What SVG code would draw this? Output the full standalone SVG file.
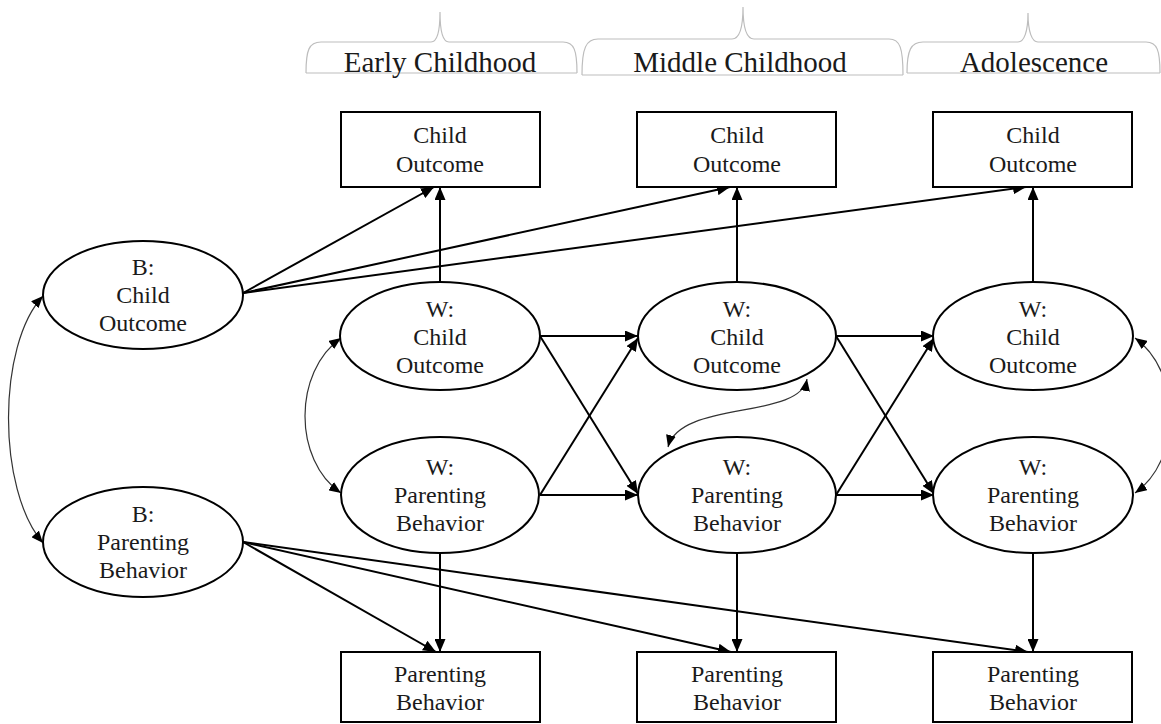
<svg xmlns="http://www.w3.org/2000/svg" width="1161" height="724" viewBox="0 0 1161 724">
  <defs>
    <style>
      .node { fill: #fff; stroke: #000; stroke-width: 2; }
      .lbl { font-family: "Liberation Serif", "Times New Roman", serif; font-size: 24px; fill: #1a1a1a; text-anchor: middle; }
      .hdr { font-family: "Liberation Serif", "Times New Roman", serif; font-size: 29px; fill: #1a1a1a; text-anchor: middle; }
      .brace { fill: none; stroke: #bdbdbd; stroke-width: 1.2; }
      .path { fill: none; stroke: #000; stroke-width: 2; marker-end: url(#head); }
      .cov { fill: none; stroke: #333; stroke-width: 1.2; marker-start: url(#headS); marker-end: url(#headS); }
    </style>
    <marker id="head" markerUnits="userSpaceOnUse" markerWidth="13" markerHeight="11" refX="13" refY="5.5" orient="auto">
      <path d="M0,0 L13,5.5 L0,11 z" fill="#000"/>
    </marker>
    <marker id="headS" markerUnits="userSpaceOnUse" markerWidth="12" markerHeight="10" refX="12" refY="5" orient="auto-start-reverse">
      <path d="M0,0 L12,5 L0,10 z" fill="#000"/>
    </marker>
  </defs>

  <!-- period headers -->
  <g id="header-early">
    <path class="brace" d="M306,73 C306,50 309,42 321,42 L431,42 C437,42 440,32 440,12 C440,32 443,42 449,42 L563,42 C574,42 577,50 577,73"/>
    <line class="brace" x1="306" y1="73" x2="577" y2="73"/>
    <text class="hdr" x="440" y="72">Early Childhood</text>
  </g>
  <g id="header-middle">
    <path class="brace" d="M582,75 C582,48 586,39 598,39 L732,39 C739,39 743,28 743,7 C743,28 747,39 754,39 L889,39 C900,39 903,48 903,75"/>
    <line class="brace" x1="582" y1="75" x2="903" y2="75"/>
    <text class="hdr" x="740" y="72">Middle Childhood</text>
  </g>
  <g id="header-adolescence">
    <path class="brace" d="M907,73 C907,50 911,42 923,42 L1018,42 C1024,42 1028,32 1028,13 C1028,32 1032,42 1038,42 L1146,42 C1157,42 1160,50 1160,73"/>
    <line class="brace" x1="907" y1="73" x2="1160" y2="73"/>
    <text class="hdr" x="1034" y="72">Adolescence</text>
  </g>

  <!-- connectors -->
  <g id="connectors">
    <!-- between-person effects on observed outcomes -->
    <line class="path" x1="243" y1="293" x2="434" y2="187"/>
    <line class="path" x1="243" y1="293" x2="730" y2="187"/>
    <line class="path" x1="243" y1="293" x2="1026" y2="187"/>
    <line class="path" x1="243" y1="542" x2="436" y2="652"/>
    <line class="path" x1="243" y1="542" x2="731" y2="652"/>
    <line class="path" x1="243" y1="542" x2="1028" y2="652"/>
    <!-- within-person to observed -->
    <line class="path" x1="440" y1="282" x2="440" y2="187"/>
    <line class="path" x1="737" y1="282" x2="737" y2="187"/>
    <line class="path" x1="1033" y1="282" x2="1033" y2="187"/>
    <line class="path" x1="440" y1="553" x2="440" y2="652"/>
    <line class="path" x1="737" y1="553" x2="737" y2="652"/>
    <line class="path" x1="1033" y1="553" x2="1033" y2="652"/>
    <!-- autoregressive and cross-lagged paths -->
    <line class="path" x1="540" y1="336" x2="638" y2="336"/>
    <line class="path" x1="540" y1="336" x2="638" y2="494"/>
    <line class="path" x1="540" y1="495" x2="638" y2="338"/>
    <line class="path" x1="540" y1="495" x2="638" y2="495"/>
    <line class="path" x1="836" y1="336" x2="934" y2="336"/>
    <line class="path" x1="836" y1="336" x2="934" y2="494"/>
    <line class="path" x1="836" y1="495" x2="934" y2="338"/>
    <line class="path" x1="836" y1="495" x2="934" y2="495"/>
    <!-- covariances -->
    <path class="cov" d="M43,296 C-3,345 -3,490 43,543"/>
    <path class="cov" d="M341,338 C293,372 293,460 341,493"/>
    <path class="cov" d="M807,379 C800,420 680,400 668,447"/>
    <path class="cov" d="M1135,338 C1182,372 1182,460 1135,493"/>
  </g>

  <!-- observed child outcome -->
  <g id="obs-child-early">
    <rect class="node" x="341" y="112" width="199" height="75"/>
    <text class="lbl" x="440" y="143">Child</text>
    <text class="lbl" x="440" y="172">Outcome</text>
  </g>
  <g id="obs-child-middle">
    <rect class="node" x="637" y="112" width="199" height="75"/>
    <text class="lbl" x="737" y="143">Child</text>
    <text class="lbl" x="737" y="172">Outcome</text>
  </g>
  <g id="obs-child-adol">
    <rect class="node" x="933" y="112" width="199" height="75"/>
    <text class="lbl" x="1033" y="143">Child</text>
    <text class="lbl" x="1033" y="172">Outcome</text>
  </g>

  <!-- between-person latent factors -->
  <g id="b-child">
    <ellipse class="node" cx="143" cy="295" rx="100" ry="54"/>
    <text class="lbl" x="143" y="275">B:</text>
    <text class="lbl" x="143" y="303">Child</text>
    <text class="lbl" x="143" y="331">Outcome</text>
  </g>
  <g id="b-parenting">
    <ellipse class="node" cx="143" cy="542" rx="100" ry="55"/>
    <text class="lbl" x="143" y="522">B:</text>
    <text class="lbl" x="143" y="550">Parenting</text>
    <text class="lbl" x="143" y="578">Behavior</text>
  </g>

  <!-- within-person child outcome -->
  <g id="w-child-early">
    <ellipse class="node" cx="440" cy="336" rx="100" ry="54"/>
    <text class="lbl" x="440" y="317">W:</text>
    <text class="lbl" x="440" y="345">Child</text>
    <text class="lbl" x="440" y="373">Outcome</text>
  </g>
  <g id="w-child-middle">
    <ellipse class="node" cx="737" cy="336" rx="99" ry="54"/>
    <text class="lbl" x="737" y="317">W:</text>
    <text class="lbl" x="737" y="345">Child</text>
    <text class="lbl" x="737" y="373">Outcome</text>
  </g>
  <g id="w-child-adol">
    <ellipse class="node" cx="1033" cy="336" rx="100" ry="54"/>
    <text class="lbl" x="1033" y="317">W:</text>
    <text class="lbl" x="1033" y="345">Child</text>
    <text class="lbl" x="1033" y="373">Outcome</text>
  </g>

  <!-- within-person parenting behavior -->
  <g id="w-parent-early">
    <ellipse class="node" cx="440" cy="495" rx="99" ry="58"/>
    <text class="lbl" x="440" y="475">W:</text>
    <text class="lbl" x="440" y="503">Parenting</text>
    <text class="lbl" x="440" y="531">Behavior</text>
  </g>
  <g id="w-parent-middle">
    <ellipse class="node" cx="737" cy="495" rx="99" ry="58"/>
    <text class="lbl" x="737" y="475">W:</text>
    <text class="lbl" x="737" y="503">Parenting</text>
    <text class="lbl" x="737" y="531">Behavior</text>
  </g>
  <g id="w-parent-adol">
    <ellipse class="node" cx="1033" cy="495" rx="100" ry="58"/>
    <text class="lbl" x="1033" y="475">W:</text>
    <text class="lbl" x="1033" y="503">Parenting</text>
    <text class="lbl" x="1033" y="531">Behavior</text>
  </g>

  <!-- observed parenting behavior -->
  <g id="obs-parent-early">
    <rect class="node" x="341" y="652" width="199" height="70"/>
    <text class="lbl" x="440" y="682">Parenting</text>
    <text class="lbl" x="440" y="710">Behavior</text>
  </g>
  <g id="obs-parent-middle">
    <rect class="node" x="637" y="652" width="199" height="70"/>
    <text class="lbl" x="737" y="682">Parenting</text>
    <text class="lbl" x="737" y="710">Behavior</text>
  </g>
  <g id="obs-parent-adol">
    <rect class="node" x="933" y="652" width="199" height="70"/>
    <text class="lbl" x="1033" y="682">Parenting</text>
    <text class="lbl" x="1033" y="710">Behavior</text>
  </g>
</svg>
